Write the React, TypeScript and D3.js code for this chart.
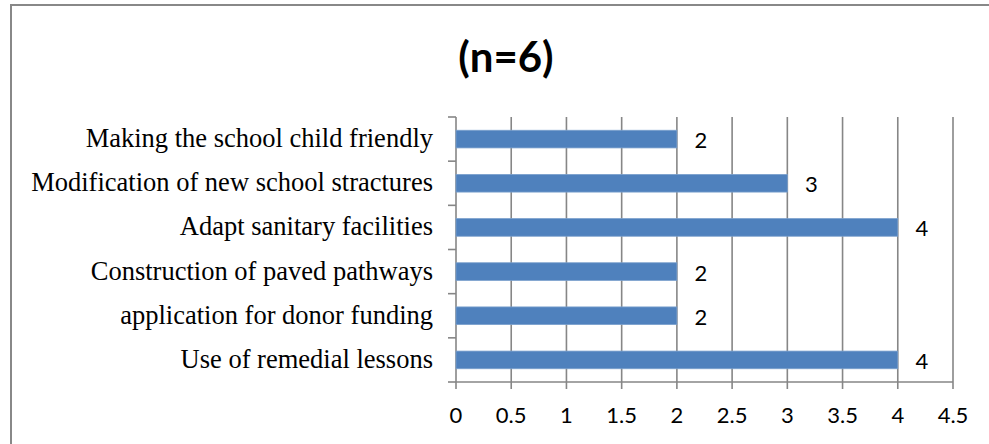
import React from "react";
import * as d3 from "d3";

const categories = [
  "Making the school child friendly",
  "Modification of new school stractures",
  "Adapt sanitary facilities",
  "Construction of paved pathways",
  "application for donor funding",
  "Use of remedial lessons",
];
const values = [2, 3, 4, 2, 2, 4];
const xTicks = [0, 0.5, 1, 1.5, 2, 2.5, 3, 3.5, 4, 4.5];
const title = "(n=6)";

const W = 989;
const H = 444;
const plotLeft = 456;
const plotRight = 953;
const plotTop = 117;
const plotBottom = 382;

export default function App() {
  const x = d3.scaleLinear().domain([0, 4.5]).range([plotLeft, plotRight]);
  const y = d3
    .scaleBand<string>()
    .domain(categories)
    .range([plotTop, plotBottom])
    .paddingInner(0.6)
    .paddingOuter(0.3);
  const band = (plotBottom - plotTop) / categories.length;
  const boundaries = d3.range(categories.length + 1).map((i) => plotTop + i * band);
  const grid = "#868686";
  const numFont = "Lato, 'Open Sans', sans-serif";
  return (
    <svg
      width={W}
      height={H}
      style={{ position: "absolute", left: 0, top: 0, background: "#fff" }}
    >
      <rect x={11} y={5} width={W + 20} height={H + 20} fill="#fff" stroke="#888" strokeWidth={2} />
      <text
        x={506}
        y={72}
        textAnchor="middle"
        fontFamily={numFont}
        fontWeight="bold"
        fontSize={42}
        fill="#000"
      >
        {title}
      </text>
      {xTicks.map((t) => (
        <line key={"g" + t} x1={x(t)} x2={x(t)} y1={plotTop} y2={plotBottom + 7} stroke={grid} strokeWidth={1.6} />
      ))}
      <line x1={plotLeft} x2={plotRight} y1={plotBottom} y2={plotBottom} stroke={grid} strokeWidth={1.6} />
      {boundaries.map((b, i) => (
        <line key={"yt" + i} x1={plotLeft - 8} x2={plotLeft} y1={b} y2={b} stroke={grid} strokeWidth={1.6} />
      ))}
      {categories.map((c, i) => (
        <g key={c}>
          <rect
            x={x(0)}
            y={y(c)}
            width={x(values[i]) - x(0)}
            height={y.bandwidth()}
            fill="#4F81BD"
            stroke="#7BA0CD"
            strokeWidth={0.8}
          />
          <text
            x={x(values[i]) + 24}
            y={(y(c) as number) + y.bandwidth() / 2 + 9}
            textAnchor="middle"
            fontFamily={numFont}
            fontSize={22}
            fill="#000"
          >
            {values[i]}
          </text>
          <text
            x={433}
            y={(y(c) as number) + y.bandwidth() / 2 + 8}
            textAnchor="end"
            fontFamily="'Liberation Serif', 'Times New Roman', serif"
            fontSize={26.5}
            fill="#000"
          >
            {c}
          </text>
        </g>
      ))}
      {xTicks.map((t) => (
        <text
          key={"l" + t}
          x={x(t)}
          y={423}
          textAnchor="middle"
          fontFamily={numFont}
          fontSize={22}
          fill="#000"
        >
          {t}
        </text>
      ))}
    </svg>
  );
}
